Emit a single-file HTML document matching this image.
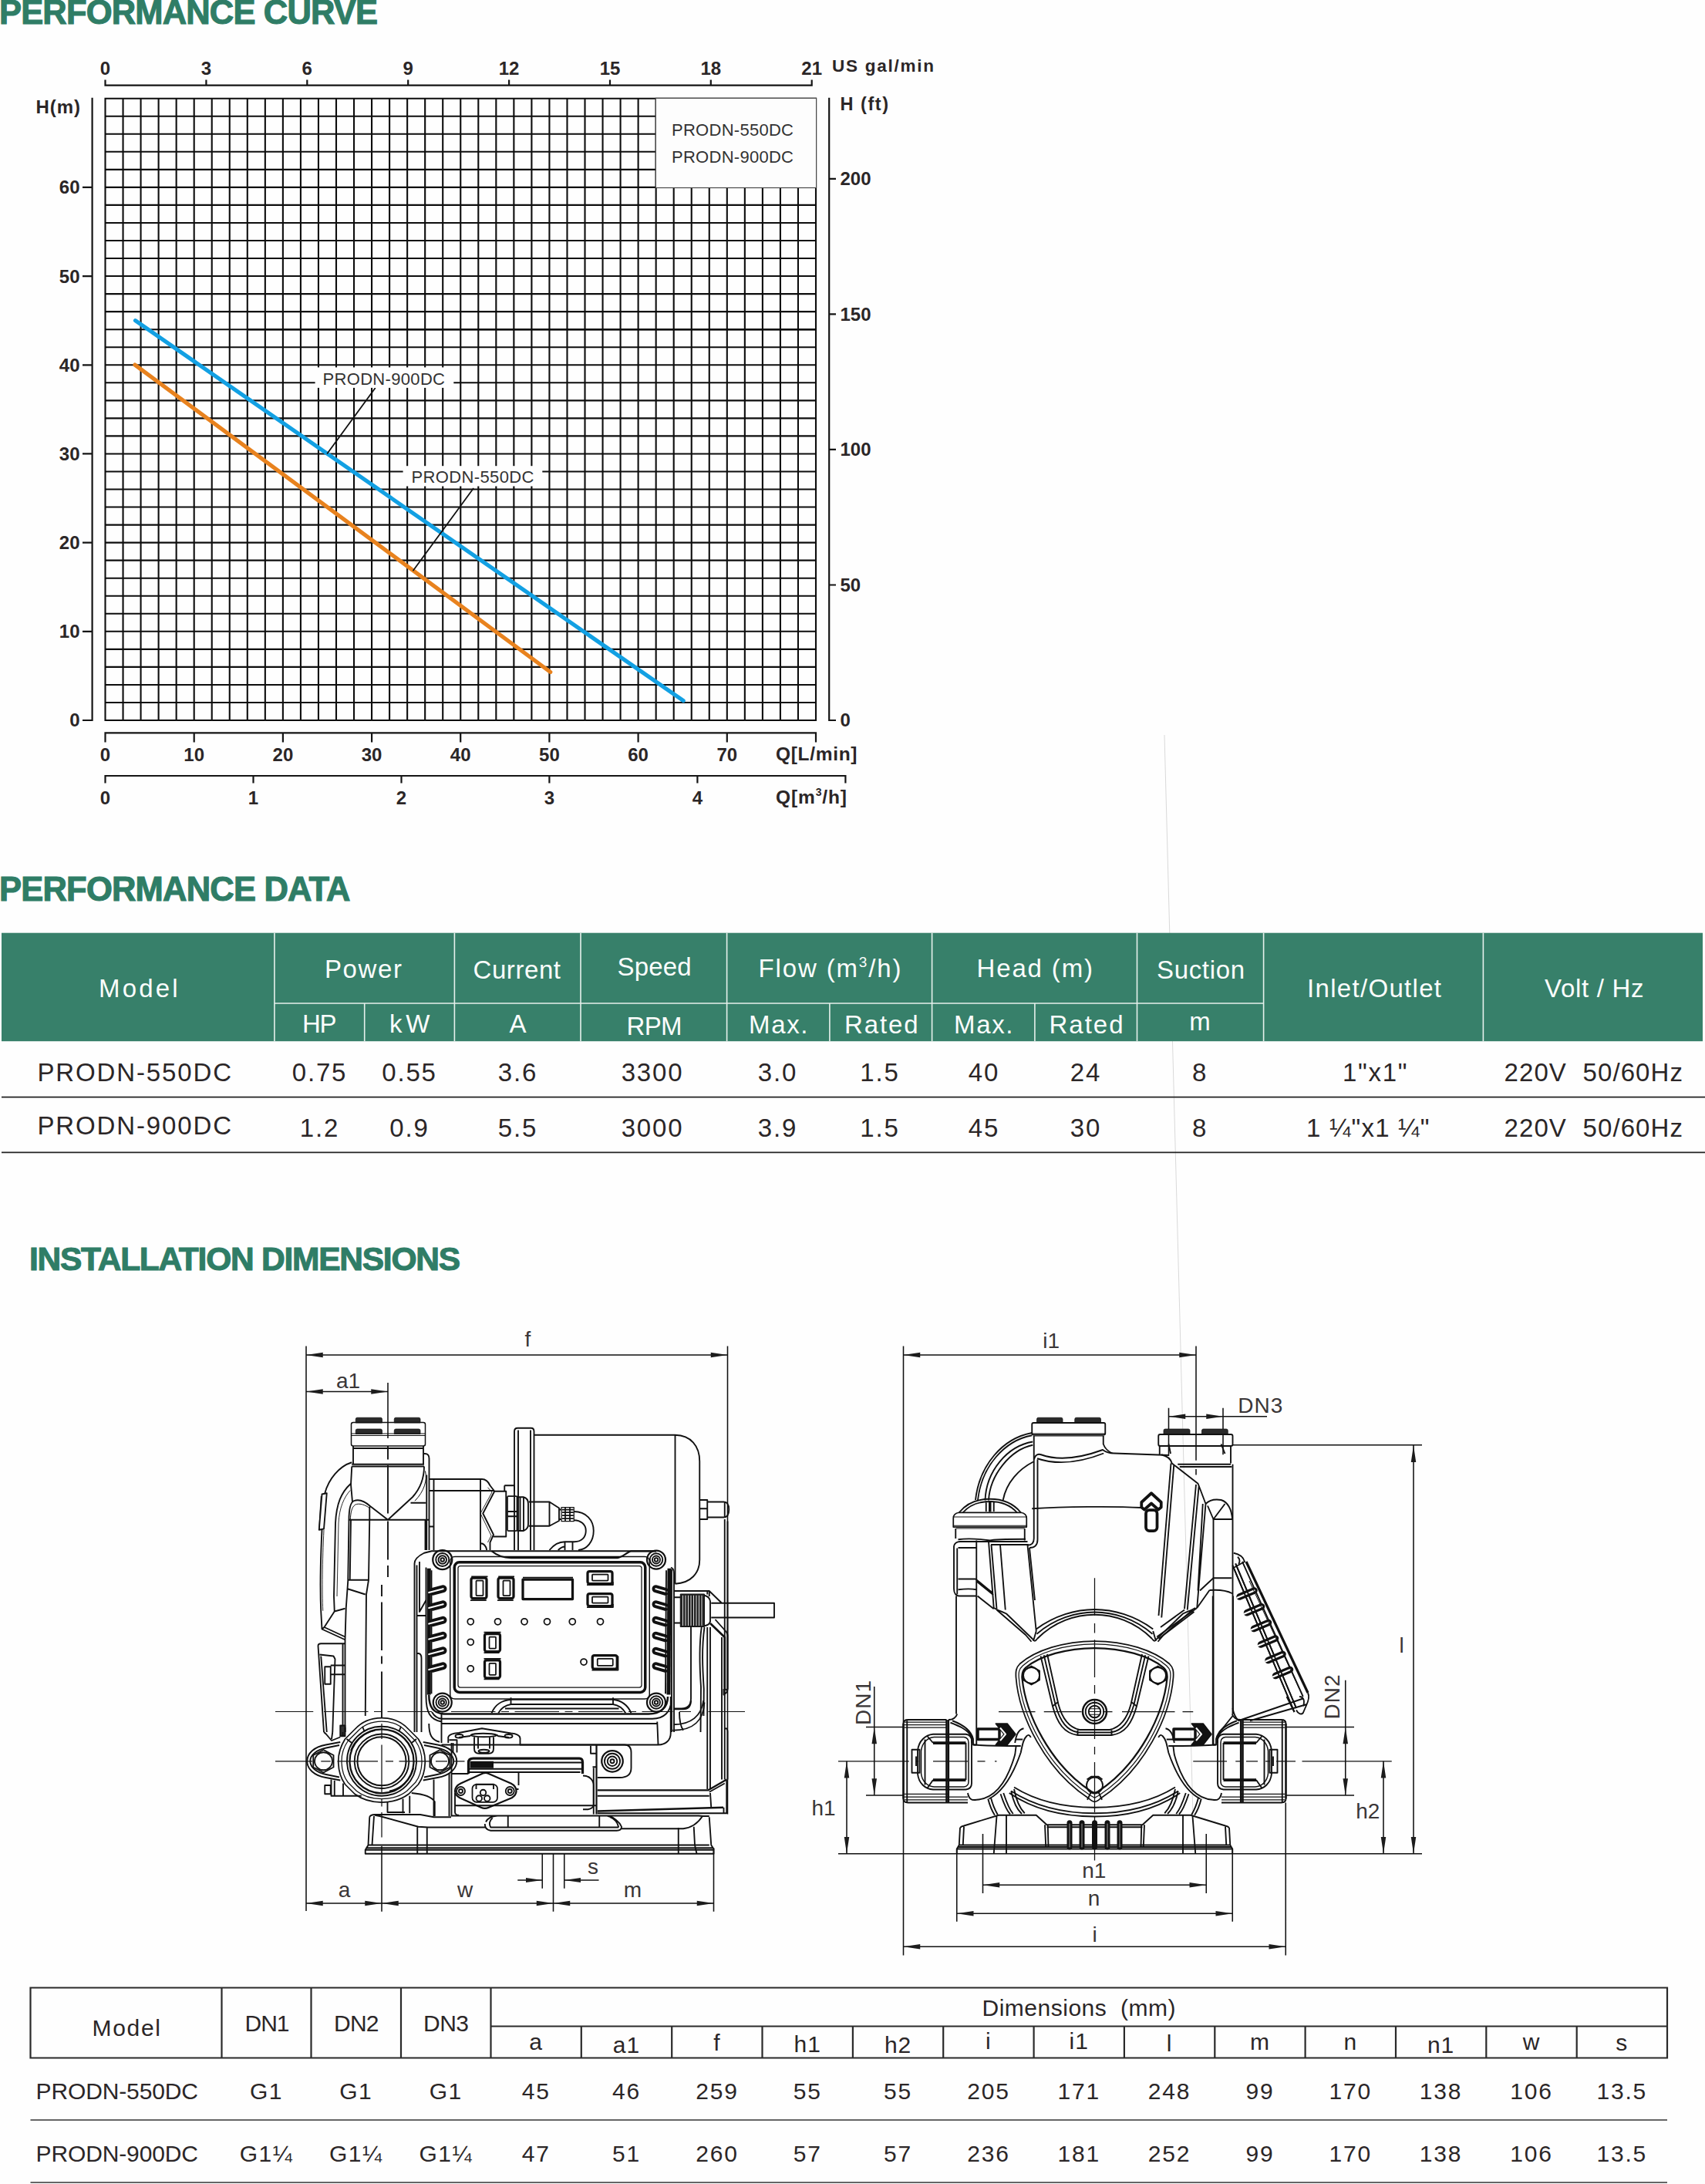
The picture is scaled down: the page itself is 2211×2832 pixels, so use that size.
<!DOCTYPE html>
<html><head><meta charset="utf-8"><title>PRODN DC</title>
<style>
html,body{margin:0;padding:0;background:#fff;}
body{width:2211px;height:2832px;overflow:hidden;font-family:"Liberation Sans",sans-serif;}
svg{display:block;}
text{font-family:"Liberation Sans",sans-serif;}
</style></head><body>
<svg width="2211" height="2832" viewBox="0 0 2211 2832">
<rect width="2211" height="2832" fill="#fefefe"/>

<text x="-1.0" y="31.0" font-size="43.5" font-weight="bold" fill="#2f7d66" textLength="491.0" lengthAdjust="spacing"  stroke="#2f7d66" stroke-width="1.1">PERFORMANCE CURVE</text>
<text x="-1.0" y="1168.0" font-size="43.5" font-weight="bold" fill="#2f7d66" textLength="455.5" lengthAdjust="spacing"  stroke="#2f7d66" stroke-width="1.1">PERFORMANCE DATA</text>
<text x="38.0" y="1647.0" font-size="42.5" font-weight="bold" fill="#2f7d66" textLength="559.0" lengthAdjust="spacing"  stroke="#2f7d66" stroke-width="1.1">INSTALLATION DIMENSIONS</text>
<path d="M136.50,126.70V935.00M159.54,126.70V935.00M182.57,126.70V935.00M205.61,126.70V935.00M228.65,126.70V935.00M251.69,126.70V935.00M274.73,126.70V935.00M297.76,126.70V935.00M320.80,126.70V935.00M343.84,126.70V935.00M366.88,126.70V935.00M389.91,126.70V935.00M412.95,126.70V935.00M435.99,126.70V935.00M459.03,126.70V935.00M482.06,126.70V935.00M505.10,126.70V935.00M528.14,126.70V935.00M551.17,126.70V935.00M574.21,126.70V935.00M597.25,126.70V935.00M620.29,126.70V935.00M643.33,126.70V935.00M666.36,126.70V935.00M689.40,126.70V935.00M712.44,126.70V935.00M735.48,126.70V935.00M758.51,126.70V935.00M781.55,126.70V935.00M804.59,126.70V935.00M827.62,126.70V935.00M850.66,126.70V935.00M873.70,126.70V935.00M896.74,126.70V935.00M919.78,126.70V935.00M942.81,126.70V935.00M965.85,126.70V935.00M988.89,126.70V935.00M1011.93,126.70V935.00M1034.96,126.70V935.00M1058.00,126.70V935.00M135.50,127.70H1059.00M135.50,150.74H1059.00M135.50,173.77H1059.00M135.50,196.81H1059.00M135.50,219.85H1059.00M135.50,242.89H1059.00M135.50,265.92H1059.00M135.50,288.96H1059.00M135.50,312.00H1059.00M135.50,335.03H1059.00M135.50,358.07H1059.00M135.50,381.11H1059.00M135.50,404.15H1059.00M135.50,427.18H1059.00M135.50,450.22H1059.00M135.50,473.26H1059.00M135.50,496.29H1059.00M135.50,519.33H1059.00M135.50,542.37H1059.00M135.50,565.41H1059.00M135.50,588.44H1059.00M135.50,611.48H1059.00M135.50,634.52H1059.00M135.50,657.55H1059.00M135.50,680.59H1059.00M135.50,703.63H1059.00M135.50,726.67H1059.00M135.50,749.70H1059.00M135.50,772.74H1059.00M135.50,795.78H1059.00M135.50,818.81H1059.00M135.50,841.85H1059.00M135.50,864.89H1059.00M135.50,887.93H1059.00M135.50,910.96H1059.00M135.50,934.00H1059.00" stroke="#0d0d0d" stroke-width="2.1" fill="none"/>
<path d="M322,427.3H1058.0" stroke="#0d0d0d" stroke-width="2.6" fill="none"/>
<path d="M136.5,110.6H1052.7M136.5,103.5V111.7M267.4,103.5V111.7M398.3,103.5V111.7M529.2,103.5V111.7M660.1,103.5V111.7M791.0,103.5V111.7M921.8,103.5V111.7M1052.7,103.5V111.7" stroke="#141414" stroke-width="2.2" fill="none"/>
<text x="136.5" y="97.0" font-size="24" font-weight="bold" fill="#2b2627" text-anchor="middle" letter-spacing="0" >0</text>
<text x="267.4" y="97.0" font-size="24" font-weight="bold" fill="#2b2627" text-anchor="middle" letter-spacing="0" >3</text>
<text x="398.3" y="97.0" font-size="24" font-weight="bold" fill="#2b2627" text-anchor="middle" letter-spacing="0" >6</text>
<text x="529.2" y="97.0" font-size="24" font-weight="bold" fill="#2b2627" text-anchor="middle" letter-spacing="0" >9</text>
<text x="660.1" y="97.0" font-size="24" font-weight="bold" fill="#2b2627" text-anchor="middle" letter-spacing="0" >12</text>
<text x="791.0" y="97.0" font-size="24" font-weight="bold" fill="#2b2627" text-anchor="middle" letter-spacing="0" >15</text>
<text x="921.8" y="97.0" font-size="24" font-weight="bold" fill="#2b2627" text-anchor="middle" letter-spacing="0" >18</text>
<text x="1052.7" y="97.0" font-size="24" font-weight="bold" fill="#2b2627" text-anchor="middle" letter-spacing="0" >21</text>
<text x="1079.0" y="92.8" font-size="22.5" font-weight="bold" fill="#2b2627" textLength="132.0" lengthAdjust="spacing" >US  gal/min</text>
<path d="M119.6,126.7V935.0M107,934.0H119.6M107,818.8H119.6M107,703.6H119.6M107,588.4H119.6M107,473.3H119.6M107,358.1H119.6M107,242.9H119.6" stroke="#141414" stroke-width="2.2" fill="none"/>
<text x="103.5" y="942.4" font-size="24" font-weight="bold" fill="#2b2627" text-anchor="end">0</text>
<text x="103.5" y="827.2" font-size="24" font-weight="bold" fill="#2b2627" text-anchor="end">10</text>
<text x="103.5" y="712.0" font-size="24" font-weight="bold" fill="#2b2627" text-anchor="end">20</text>
<text x="103.5" y="596.8" font-size="24" font-weight="bold" fill="#2b2627" text-anchor="end">30</text>
<text x="103.5" y="481.7" font-size="24" font-weight="bold" fill="#2b2627" text-anchor="end">40</text>
<text x="103.5" y="366.5" font-size="24" font-weight="bold" fill="#2b2627" text-anchor="end">50</text>
<text x="103.5" y="251.3" font-size="24" font-weight="bold" fill="#2b2627" text-anchor="end">60</text>
<text x="46.5" y="146.7" font-size="24" font-weight="bold" fill="#2b2627" textLength="57.5" lengthAdjust="spacing" >H(m)</text>
<path d="M1075.2,126.7V935.0M1075.2,934.0H1084M1075.2,758.5H1084M1075.2,582.9H1084M1075.2,407.4H1084M1075.2,231.8H1084" stroke="#141414" stroke-width="2.2" fill="none"/>
<text x="1089.5" y="942.4" font-size="24" font-weight="bold" fill="#2b2627">0</text>
<text x="1089.5" y="766.9" font-size="24" font-weight="bold" fill="#2b2627">50</text>
<text x="1089.5" y="591.3" font-size="24" font-weight="bold" fill="#2b2627">100</text>
<text x="1089.5" y="415.8" font-size="24" font-weight="bold" fill="#2b2627">150</text>
<text x="1089.5" y="240.2" font-size="24" font-weight="bold" fill="#2b2627">200</text>
<text x="1089.5" y="143.3" font-size="23.5" font-weight="bold" fill="#2b2627" textLength="62.5" lengthAdjust="spacing" >H (ft)</text>
<path d="M136.5,950.4H1058.0M136.5,949.3V962.6M251.7,949.3V962.6M366.9,949.3V962.6M482.1,949.3V962.6M597.2,949.3V962.6M712.4,949.3V962.6M827.6,949.3V962.6M942.8,949.3V962.6M1058.0,949.3V962.6" stroke="#141414" stroke-width="2.2" fill="none"/>
<text x="136.5" y="986.7" font-size="24" font-weight="bold" fill="#2b2627" text-anchor="middle" letter-spacing="0" >0</text>
<text x="251.7" y="986.7" font-size="24" font-weight="bold" fill="#2b2627" text-anchor="middle" letter-spacing="0" >10</text>
<text x="366.9" y="986.7" font-size="24" font-weight="bold" fill="#2b2627" text-anchor="middle" letter-spacing="0" >20</text>
<text x="482.1" y="986.7" font-size="24" font-weight="bold" fill="#2b2627" text-anchor="middle" letter-spacing="0" >30</text>
<text x="597.2" y="986.7" font-size="24" font-weight="bold" fill="#2b2627" text-anchor="middle" letter-spacing="0" >40</text>
<text x="712.4" y="986.7" font-size="24" font-weight="bold" fill="#2b2627" text-anchor="middle" letter-spacing="0" >50</text>
<text x="827.6" y="986.7" font-size="24" font-weight="bold" fill="#2b2627" text-anchor="middle" letter-spacing="0" >60</text>
<text x="942.8" y="986.7" font-size="24" font-weight="bold" fill="#2b2627" text-anchor="middle" letter-spacing="0" >70</text>
<text x="1006.0" y="985.6" font-size="24.5" font-weight="bold" fill="#2b2627" textLength="105.5" lengthAdjust="spacing" >Q[L/min]</text>
<path d="M136.5,1006H1096.4M136.5,1004.9V1015.6M328.5,1004.9V1015.6M520.5,1004.9V1015.6M712.4,1004.9V1015.6M904.4,1004.9V1015.6M1096.4,1004.9V1015.6" stroke="#141414" stroke-width="2.2" fill="none"/>
<text x="136.5" y="1042.6" font-size="24" font-weight="bold" fill="#2b2627" text-anchor="middle" letter-spacing="0" >0</text>
<text x="328.5" y="1042.6" font-size="24" font-weight="bold" fill="#2b2627" text-anchor="middle" letter-spacing="0" >1</text>
<text x="520.5" y="1042.6" font-size="24" font-weight="bold" fill="#2b2627" text-anchor="middle" letter-spacing="0" >2</text>
<text x="712.4" y="1042.6" font-size="24" font-weight="bold" fill="#2b2627" text-anchor="middle" letter-spacing="0" >3</text>
<text x="904.4" y="1042.6" font-size="24" font-weight="bold" fill="#2b2627" text-anchor="middle" letter-spacing="0" >4</text>
<text x="1006" y="1042" font-size="24.5" font-weight="bold" fill="#2b2627" textLength="92" lengthAdjust="spacing">Q[m<tspan font-size="14" dy="-10">3</tspan><tspan dy="10">/h]</tspan></text>
<rect x="850.3" y="127.3" width="208.3" height="116.2" fill="#fdfdfd" stroke="#4a4a4a" stroke-width="1.2"/>
<text x="871.0" y="175.7" font-size="22" font-weight="normal" fill="#333" textLength="158.0" lengthAdjust="spacing" >PRODN-550DC</text>
<text x="871.0" y="210.6" font-size="22" font-weight="normal" fill="#333" textLength="158.0" lengthAdjust="spacing" >PRODN-900DC</text>
<path d="M175.5,415.7L886.2,908.6" stroke="#12a0e3" stroke-width="5.2" stroke-linecap="round" fill="none"/>
<path d="M175,473.1L713.8,871.5" stroke="#e8821e" stroke-width="5.2" stroke-linecap="round" fill="none"/>
<path d="M486.7,503L424.1,588.5M614.1,633L535.5,740.3" stroke="#111" stroke-width="1.8" fill="none"/>
<rect x="408.6" y="476.4" width="179.7" height="26.5" fill="#fefefe"/>
<rect x="522.6" y="604.2" width="180.7" height="26.3" fill="#fefefe"/>
<text x="418.5" y="498.7" font-size="22" font-weight="normal" fill="#333" textLength="158.5" lengthAdjust="spacing" >PRODN-900DC</text>
<text x="533.5" y="626.0" font-size="22" font-weight="normal" fill="#333" textLength="159.0" lengthAdjust="spacing" >PRODN-550DC</text>
<path d="M1510,953L1547,2355" stroke="#d9d9d9" stroke-width="1" fill="none"/>
<rect x="2" y="1209.7" width="2206" height="140.5" fill="#37806a"/>
<path d="M355.9,1209.7V1350.2M589.4,1209.7V1350.2M753,1209.7V1350.2M942.6,1209.7V1350.2M1208.6,1209.7V1350.2M1474.5,1209.7V1350.2M1638.6,1209.7V1350.2M1923.4,1209.7V1350.2M472.7,1301V1350.2M1075.9,1301V1350.2M1341.9,1301V1350.2M355.9,1301H1638.6" stroke="#e6f0ec" stroke-width="1.6" fill="none"/>
<text x="128.0" y="1293.0" font-size="33" font-weight="normal" fill="#fbfdfc" textLength="102.5" lengthAdjust="spacing" >Model</text>
<text x="421.0" y="1268.0" font-size="33" font-weight="normal" fill="#fbfdfc" textLength="100.0" lengthAdjust="spacing" >Power</text>
<text x="392.0" y="1338.7" font-size="33" font-weight="normal" fill="#fbfdfc" textLength="44.5" lengthAdjust="spacing" >HP</text>
<text x="505.0" y="1338.7" font-size="33" font-weight="normal" fill="#fbfdfc" textLength="52.5" lengthAdjust="spacing" >kW</text>
<text x="613.5" y="1268.5" font-size="33" font-weight="normal" fill="#fbfdfc" textLength="113.5" lengthAdjust="spacing" >Current</text>
<text x="671.5" y="1338.7" font-size="33" font-weight="normal" fill="#fbfdfc" text-anchor="middle" letter-spacing="0" >A</text>
<text x="800.5" y="1264.5" font-size="33" font-weight="normal" fill="#fbfdfc" textLength="96.0" lengthAdjust="spacing" >Speed</text>
<text x="812.5" y="1342.0" font-size="33" font-weight="normal" fill="#fbfdfc" textLength="72.0" lengthAdjust="spacing" >RPM</text>
<text x="983.5" y="1266.8" font-size="33" fill="#fbfdfc" textLength="185" lengthAdjust="spacing">Flow (m<tspan font-size="19" dy="-13">3</tspan><tspan dy="13">/h)</tspan></text>
<text x="1266.5" y="1266.8" font-size="33" font-weight="normal" fill="#fbfdfc" textLength="150.5" lengthAdjust="spacing" >Head (m)</text>
<text x="971.0" y="1339.5" font-size="33" font-weight="normal" fill="#fbfdfc" textLength="76.5" lengthAdjust="spacing" >Max.</text>
<text x="1095.0" y="1339.5" font-size="33" font-weight="normal" fill="#fbfdfc" textLength="95.5" lengthAdjust="spacing" >Rated</text>
<text x="1237.0" y="1339.5" font-size="33" font-weight="normal" fill="#fbfdfc" textLength="76.5" lengthAdjust="spacing" >Max.</text>
<text x="1360.5" y="1339.5" font-size="33" font-weight="normal" fill="#fbfdfc" textLength="96.0" lengthAdjust="spacing" >Rated</text>
<text x="1500.0" y="1269.0" font-size="33" font-weight="normal" fill="#fbfdfc" textLength="114.0" lengthAdjust="spacing" >Suction</text>
<text x="1556.0" y="1335.8" font-size="33" font-weight="normal" fill="#fbfdfc" text-anchor="middle" letter-spacing="0" >m</text>
<text x="1695.0" y="1292.6" font-size="33" font-weight="normal" fill="#fbfdfc" textLength="174.0" lengthAdjust="spacing" >Inlet/Outlet</text>
<text x="2003.0" y="1292.6" font-size="33" font-weight="normal" fill="#fbfdfc" textLength="128.5" lengthAdjust="spacing" >Volt / Hz</text>
<text x="48.5" y="1401.6" font-size="33" font-weight="normal" fill="#2b2627" textLength="251.5" lengthAdjust="spacing" >PRODN-550DC</text>
<text x="414.5" y="1401.6" font-size="33" font-weight="normal" fill="#2b2627" text-anchor="middle" letter-spacing="1.8" >0.75</text>
<text x="531.0" y="1401.6" font-size="33" font-weight="normal" fill="#2b2627" text-anchor="middle" letter-spacing="1.8" >0.55</text>
<text x="671.5" y="1401.6" font-size="33" font-weight="normal" fill="#2b2627" text-anchor="middle" letter-spacing="1.8" >3.6</text>
<text x="846.0" y="1401.6" font-size="33" font-weight="normal" fill="#2b2627" text-anchor="middle" letter-spacing="1.8" >3300</text>
<text x="1008.5" y="1401.6" font-size="33" font-weight="normal" fill="#2b2627" text-anchor="middle" letter-spacing="1.8" >3.0</text>
<text x="1141.0" y="1401.6" font-size="33" font-weight="normal" fill="#2b2627" text-anchor="middle" letter-spacing="1.8" >1.5</text>
<text x="1276.0" y="1401.6" font-size="33" font-weight="normal" fill="#2b2627" text-anchor="middle" letter-spacing="1.8" >40</text>
<text x="1408.0" y="1401.6" font-size="33" font-weight="normal" fill="#2b2627" text-anchor="middle" letter-spacing="1.8" >24</text>
<text x="1556.0" y="1401.6" font-size="33" font-weight="normal" fill="#2b2627" text-anchor="middle" letter-spacing="1.8" >8</text>
<text x="1741.0" y="1401.6" font-size="33" font-weight="normal" fill="#2b2627" textLength="83.5" lengthAdjust="spacing" >1"x1"</text>
<text x="1950.5" y="1401.6" font-size="33" font-weight="normal" fill="#2b2627" textLength="231.5" lengthAdjust="spacing" xml:space="preserve">220V  50/60Hz</text>
<text x="48.5" y="1471.0" font-size="33" font-weight="normal" fill="#2b2627" textLength="251.5" lengthAdjust="spacing" >PRODN-900DC</text>
<text x="414.5" y="1474.2" font-size="33" font-weight="normal" fill="#2b2627" text-anchor="middle" letter-spacing="1.8" >1.2</text>
<text x="531.0" y="1474.2" font-size="33" font-weight="normal" fill="#2b2627" text-anchor="middle" letter-spacing="1.8" >0.9</text>
<text x="671.5" y="1474.2" font-size="33" font-weight="normal" fill="#2b2627" text-anchor="middle" letter-spacing="1.8" >5.5</text>
<text x="846.0" y="1474.2" font-size="33" font-weight="normal" fill="#2b2627" text-anchor="middle" letter-spacing="1.8" >3000</text>
<text x="1008.5" y="1474.2" font-size="33" font-weight="normal" fill="#2b2627" text-anchor="middle" letter-spacing="1.8" >3.9</text>
<text x="1141.0" y="1474.2" font-size="33" font-weight="normal" fill="#2b2627" text-anchor="middle" letter-spacing="1.8" >1.5</text>
<text x="1276.0" y="1474.2" font-size="33" font-weight="normal" fill="#2b2627" text-anchor="middle" letter-spacing="1.8" >45</text>
<text x="1408.0" y="1474.2" font-size="33" font-weight="normal" fill="#2b2627" text-anchor="middle" letter-spacing="1.8" >30</text>
<text x="1556.0" y="1474.2" font-size="33" font-weight="normal" fill="#2b2627" text-anchor="middle" letter-spacing="1.8" >8</text>
<text x="1694.0" y="1474.2" font-size="33" font-weight="normal" fill="#2b2627" textLength="159.5" lengthAdjust="spacing" >1 ¼"x1 ¼"</text>
<text x="1950.5" y="1474.2" font-size="33" font-weight="normal" fill="#2b2627" textLength="231.5" lengthAdjust="spacing" xml:space="preserve">220V  50/60Hz</text>
<path d="M2,1422.6H2211M2,1494.4H2211" stroke="#222" stroke-width="1.8" fill="none"/>
<path d="M39.5,2577.5H2162V2668.5H39.5ZM287.5,2577.5V2668.5M403.5,2577.5V2668.5M520,2577.5V2668.5M636.5,2577.5V2668.5M753.8,2627.5V2668.5M871.2,2627.5V2668.5M988.5,2627.5V2668.5M1105.9,2627.5V2668.5M1223.2,2627.5V2668.5M1340.6,2627.5V2668.5M1457.9,2627.5V2668.5M1575.3,2627.5V2668.5M1692.6,2627.5V2668.5M1810.0,2627.5V2668.5M1927.3,2627.5V2668.5M2044.7,2627.5V2668.5M636.5,2627.5H2162" stroke="#2a2a2a" stroke-width="2.2" fill="none"/>
<path d="M39.5,2749H2162M39.5,2830H2162" stroke="#333" stroke-width="1.3" fill="none"/>
<text x="119.5" y="2640.0" font-size="30" font-weight="normal" fill="#2b2627" textLength="88.5" lengthAdjust="spacing" >Model</text>
<text x="317.5" y="2634.0" font-size="30" font-weight="normal" fill="#2b2627" textLength="58.0" lengthAdjust="spacing" >DN1</text>
<text x="433.0" y="2634.0" font-size="30" font-weight="normal" fill="#2b2627" textLength="58.5" lengthAdjust="spacing" >DN2</text>
<text x="549.0" y="2634.0" font-size="30" font-weight="normal" fill="#2b2627" textLength="59.0" lengthAdjust="spacing" >DN3</text>
<text x="1273.5" y="2613.5" font-size="30" font-weight="normal" fill="#2b2627" textLength="251.0" lengthAdjust="spacing" xml:space="preserve">Dimensions  (mm)</text>
<text x="695.2" y="2657.5" font-size="30" font-weight="normal" fill="#2b2627" text-anchor="middle" letter-spacing="1" >a</text>
<text x="812.5" y="2662.0" font-size="30" font-weight="normal" fill="#2b2627" text-anchor="middle" letter-spacing="1" >a1</text>
<text x="929.9" y="2659.0" font-size="30" font-weight="normal" fill="#2b2627" text-anchor="middle" letter-spacing="1" >f</text>
<text x="1047.2" y="2660.5" font-size="30" font-weight="normal" fill="#2b2627" text-anchor="middle" letter-spacing="1" >h1</text>
<text x="1164.6" y="2662.0" font-size="30" font-weight="normal" fill="#2b2627" text-anchor="middle" letter-spacing="1" >h2</text>
<text x="1281.9" y="2657.0" font-size="30" font-weight="normal" fill="#2b2627" text-anchor="middle" letter-spacing="1" >i</text>
<text x="1399.2" y="2657.0" font-size="30" font-weight="normal" fill="#2b2627" text-anchor="middle" letter-spacing="1" >i1</text>
<text x="1516.6" y="2660.0" font-size="30" font-weight="normal" fill="#2b2627" text-anchor="middle" letter-spacing="1" >l</text>
<text x="1633.9" y="2657.5" font-size="30" font-weight="normal" fill="#2b2627" text-anchor="middle" letter-spacing="1" >m</text>
<text x="1751.3" y="2657.5" font-size="30" font-weight="normal" fill="#2b2627" text-anchor="middle" letter-spacing="1" >n</text>
<text x="1868.6" y="2662.0" font-size="30" font-weight="normal" fill="#2b2627" text-anchor="middle" letter-spacing="1" >n1</text>
<text x="1986.0" y="2657.5" font-size="30" font-weight="normal" fill="#2b2627" text-anchor="middle" letter-spacing="1" >w</text>
<text x="2103.3" y="2658.5" font-size="30" font-weight="normal" fill="#2b2627" text-anchor="middle" letter-spacing="1" >s</text>
<text x="46.5" y="2721.5" font-size="30" font-weight="normal" fill="#2b2627" textLength="210.5" lengthAdjust="spacing" >PRODN-550DC</text>
<text x="345.5" y="2721.5" font-size="30" font-weight="normal" fill="#2b2627" text-anchor="middle" letter-spacing="1.5" >G1</text>
<text x="461.7" y="2721.5" font-size="30" font-weight="normal" fill="#2b2627" text-anchor="middle" letter-spacing="1.5" >G1</text>
<text x="578.2" y="2721.5" font-size="30" font-weight="normal" fill="#2b2627" text-anchor="middle" letter-spacing="1.5" >G1</text>
<text x="695.2" y="2721.5" font-size="30" font-weight="normal" fill="#2b2627" text-anchor="middle" letter-spacing="1.8" >45</text>
<text x="812.5" y="2721.5" font-size="30" font-weight="normal" fill="#2b2627" text-anchor="middle" letter-spacing="1.8" >46</text>
<text x="929.9" y="2721.5" font-size="30" font-weight="normal" fill="#2b2627" text-anchor="middle" letter-spacing="1.8" >259</text>
<text x="1047.2" y="2721.5" font-size="30" font-weight="normal" fill="#2b2627" text-anchor="middle" letter-spacing="1.8" >55</text>
<text x="1164.6" y="2721.5" font-size="30" font-weight="normal" fill="#2b2627" text-anchor="middle" letter-spacing="1.8" >55</text>
<text x="1281.9" y="2721.5" font-size="30" font-weight="normal" fill="#2b2627" text-anchor="middle" letter-spacing="1.8" >205</text>
<text x="1399.2" y="2721.5" font-size="30" font-weight="normal" fill="#2b2627" text-anchor="middle" letter-spacing="1.8" >171</text>
<text x="1516.6" y="2721.5" font-size="30" font-weight="normal" fill="#2b2627" text-anchor="middle" letter-spacing="1.8" >248</text>
<text x="1633.9" y="2721.5" font-size="30" font-weight="normal" fill="#2b2627" text-anchor="middle" letter-spacing="1.8" >99</text>
<text x="1751.3" y="2721.5" font-size="30" font-weight="normal" fill="#2b2627" text-anchor="middle" letter-spacing="1.8" >170</text>
<text x="1868.6" y="2721.5" font-size="30" font-weight="normal" fill="#2b2627" text-anchor="middle" letter-spacing="1.8" >138</text>
<text x="1986.0" y="2721.5" font-size="30" font-weight="normal" fill="#2b2627" text-anchor="middle" letter-spacing="1.8" >106</text>
<text x="2103.3" y="2721.5" font-size="30" font-weight="normal" fill="#2b2627" text-anchor="middle" letter-spacing="1.8" >13.5</text>
<text x="46.5" y="2802.5" font-size="30" font-weight="normal" fill="#2b2627" textLength="210.5" lengthAdjust="spacing" >PRODN-900DC</text>
<text x="345.5" y="2802.5" font-size="30" font-weight="normal" fill="#2b2627" text-anchor="middle" letter-spacing="1.5" >G1¼</text>
<text x="461.7" y="2802.5" font-size="30" font-weight="normal" fill="#2b2627" text-anchor="middle" letter-spacing="1.5" >G1¼</text>
<text x="578.2" y="2802.5" font-size="30" font-weight="normal" fill="#2b2627" text-anchor="middle" letter-spacing="1.5" >G1¼</text>
<text x="695.2" y="2802.5" font-size="30" font-weight="normal" fill="#2b2627" text-anchor="middle" letter-spacing="1.8" >47</text>
<text x="812.5" y="2802.5" font-size="30" font-weight="normal" fill="#2b2627" text-anchor="middle" letter-spacing="1.8" >51</text>
<text x="929.9" y="2802.5" font-size="30" font-weight="normal" fill="#2b2627" text-anchor="middle" letter-spacing="1.8" >260</text>
<text x="1047.2" y="2802.5" font-size="30" font-weight="normal" fill="#2b2627" text-anchor="middle" letter-spacing="1.8" >57</text>
<text x="1164.6" y="2802.5" font-size="30" font-weight="normal" fill="#2b2627" text-anchor="middle" letter-spacing="1.8" >57</text>
<text x="1281.9" y="2802.5" font-size="30" font-weight="normal" fill="#2b2627" text-anchor="middle" letter-spacing="1.8" >236</text>
<text x="1399.2" y="2802.5" font-size="30" font-weight="normal" fill="#2b2627" text-anchor="middle" letter-spacing="1.8" >181</text>
<text x="1516.6" y="2802.5" font-size="30" font-weight="normal" fill="#2b2627" text-anchor="middle" letter-spacing="1.8" >252</text>
<text x="1633.9" y="2802.5" font-size="30" font-weight="normal" fill="#2b2627" text-anchor="middle" letter-spacing="1.8" >99</text>
<text x="1751.3" y="2802.5" font-size="30" font-weight="normal" fill="#2b2627" text-anchor="middle" letter-spacing="1.8" >170</text>
<text x="1868.6" y="2802.5" font-size="30" font-weight="normal" fill="#2b2627" text-anchor="middle" letter-spacing="1.8" >138</text>
<text x="1986.0" y="2802.5" font-size="30" font-weight="normal" fill="#2b2627" text-anchor="middle" letter-spacing="1.8" >106</text>
<text x="2103.3" y="2802.5" font-size="30" font-weight="normal" fill="#2b2627" text-anchor="middle" letter-spacing="1.8" >13.5</text>
<!-- LEFT PUMP: coords = 4x zoom, origin (330,1700) -->
<g transform="translate(330,1700) scale(0.25)" fill="none" stroke="#111" stroke-width="7.5" stroke-linejoin="round" stroke-linecap="butt">
<!-- L1: dimension lines -->
<path d="M268,182V3112M268,228H2454M268,418H692M692,372V660" stroke-width="6.2"/>
<path d="M268,228L355,215V241ZM268,418L355,405V431ZM692,418L605,405V431Z" fill="#1c1c1c" stroke="none"/>
<path d="M692,700V770M692,800V1050M692,1090V1290M692,1320V1380M660,1420V1480M660,1510V1760M660,1790V1830M660,1870V2110"/>
<!-- pipe cap -->
<path d="M525,580V561Q525,553 533,553H654Q662,553 662,561V580ZM725,580V561Q725,553 733,553H852Q860,553 860,561V580ZM525,638V620Q525,612 533,612H654Q662,612 662,620V638ZM725,638V620Q725,612 733,612H852Q860,612 860,620V638Z" fill="#2a2a2a" stroke-width="3"/>
<rect x="502" y="578" width="384" height="122" rx="10" stroke-width="6"/>
<path d="M502,636H886M502,646H886" stroke-width="4"/>
<path d="M512,700V795M876,700V795M512,712H876M505,795H880M505,806H880"/>
<!-- body -->
<path d="M505,806L500,900L508,990M880,806C880,860 865,915 820,965L692,1083L600,1012C570,985 540,975 515,985C495,995 490,1040 490,1083H905M810,995H890M597,1015V1083"/>
<path d="M886,830C897,880 880,935 832,985M600,1025C575,1003 540,995 522,1005C503,1018 499,1050 497,1083" stroke-width="4"/>
<!-- left arc / handle -->
<path d="M505,785C440,805 385,870 365,945M350,950L375,945L360,1130L335,1135ZM350,1135C342,1300 340,1450 345,1560L350,1650L470,1705M500,895C450,940 425,1000 420,1100L412,1480L415,1558L470,1543M415,1558L362,1640L350,1650M362,1640L470,1690"/>
<path d="M360,1135C352,1300 350,1450 355,1555M497,930C465,965 440,1020 436,1100L428,1480M345,960L335,1128" stroke-width="3.5"/>
<!-- column -->
<path d="M490,1083L485,1400L475,1540L470,1705V2184M597,1083L592,1395L580,1470L575,2100M485,1395H590M480,1440L575,1470M500,1083L495,1395" />
<!-- lower-left bracket -->
<path d="M330,1737C330,1728 335,1725 345,1725H470M330,1737L360,2184M338,1782L410,1790L418,1805L405,2184M345,1790L375,2184M365,1845H395V1935H365ZM395,1838H470M395,1885H470M458,1725V2184"/>
<!-- flange right of pipe -->
<path d="M880,740C900,738 906,750 906,765V1240M893,850V1240M886,1083V1240"/>
<!-- pressure switch box -->
<path d="M906,872H1180C1200,872 1215,890 1222,905L1245,935L1185,1050L1240,1160L1222,1200V1240M906,932H1240M930,872V1240M1172,872V1240M906,1118H930M1172,1205C1190,1205 1200,1215 1205,1240"/>
<path d="M1210,915L1232,940L1172,1050L1228,1165L1210,1200" stroke-width="3.5"/>
<path d="M1297,905H1348V935M1297,905V935M1240,935H1305V1170H1240"/>
<rect x="1312" y="960" width="50" height="180" rx="5" stroke-width="7"/>
<path d="M1312,1040H1362M1312,1065H1362M1362,965H1395C1415,970 1420,985 1420,1000V1105C1420,1125 1410,1135 1395,1140H1362M1378,967V1138M1396,968V1138"/>
<path d="M1422,990H1530L1580,1022V1088L1530,1115H1422M1530,990V1115"/>
<!-- tank flange -->
<path d="M1348,1240V625C1348,612 1355,607 1365,607H1435C1445,607 1450,615 1450,625V1240M1368,618V1240M1432,618V1240"/>
<!-- control box left parts -->
<path d="M830,2184V1310C830,1290 850,1270 880,1255L920,1245H1704M842,1318V2184M856,1300V1560L890,1500M845,1580H890M845,1775C860,1775 866,1785 866,1800V2184"/>
<path d="M1230,1245C1260,1270 1290,1280 1330,1280H1884" stroke-width="9"/>
<circle cx="975" cy="1290" r="50" stroke-width="9"/><circle cx="975" cy="1290" r="34"/><circle cx="975" cy="1290" r="21"/><circle cx="975" cy="1290" r="9"/>
<circle cx="975" cy="2030" r="48" stroke-width="9"/><circle cx="975" cy="2030" r="33"/><circle cx="975" cy="2030" r="20"/><circle cx="975" cy="2030" r="9"/>
<path d="M905,1335V1990" stroke-width="20"/>
<path d="M918,1345V1985M890,1330V2000"/>
<rect x="1037" y="1303" width="990" height="675" rx="26" stroke-width="14"/>
<rect x="1056" y="1322" width="952" height="630" rx="12" stroke-width="5"/><path d="M1015,1990V1300C1015,1285 1025,1274 1040,1274H2024C2039,1274 2049,1285 2049,1300V1990C2049,2005 2039,2012 2024,2012H1040C1025,2012 1015,2005 1015,1990Z" stroke-width="6"/>
<!-- vent slots -->
<g stroke="#111" stroke-width="40" stroke-linecap="round">
<path d="M925,1455L978,1441M925,1535L978,1521M925,1617L978,1603M925,1697L978,1683M925,1775L978,1761M925,1855L978,1841"/>
<path d="M2082,1441L2130,1455M2082,1521L2130,1535M2082,1603L2130,1617M2082,1683L2130,1697M2082,1763L2130,1777M2082,1841L2130,1855"/>
</g>
<g stroke="#fefefe" stroke-width="9" stroke-linecap="round">
<path d="M905,1460L978,1441M905,1540L978,1521M905,1622L978,1603M905,1702L978,1683M905,1780L978,1761M905,1860L978,1841"/>
<path d="M2082,1441L2150,1460M2082,1521L2150,1540M2082,1603L2150,1622M2082,1683L2150,1702M2082,1763L2150,1782M2082,1841L2150,1860"/>
</g>
<!-- buttons -->
<g stroke-width="13">
<rect x="1124" y="1384" width="80" height="106" rx="10"/><rect x="1264" y="1384" width="80" height="106" rx="10"/>
<rect x="1194" y="1674" width="80" height="92" rx="10"/><rect x="1194" y="1811" width="80" height="92" rx="10"/>
<rect x="1728" y="1350" width="128" height="64" rx="10"/><rect x="1728" y="1466" width="128" height="64" rx="10"/>
<rect x="1753" y="1786" width="128" height="70" rx="10"/>
<rect x="1392" y="1392" width="258" height="102" />
</g>
<g stroke-width="7">
<rect x="1150" y="1398" width="36" height="78" rx="3"/><rect x="1290" y="1398" width="36" height="78" rx="3"/>
<rect x="1218" y="1690" width="34" height="60" rx="3"/><rect x="1218" y="1827" width="34" height="60" rx="3"/>
<rect x="1752" y="1366" width="82" height="32" rx="3"/><rect x="1752" y="1482" width="82" height="32" rx="3"/>
<rect x="1779" y="1803" width="80" height="36" rx="3"/>
<path d="M1125,1377H1210M1120,1500H1203M1265,1377H1348M1260,1500H1343M1190,1666H1278M1190,1772H1270M1190,1803H1278M1190,1909H1270M1392,1382H1652M1724,1420H1860V1405M1724,1536H1860V1520M1750,1862H1886V1790"/>
<circle cx="1121" cy="1611" r="16"/><circle cx="1262" cy="1611" r="16"/><circle cx="1400" cy="1611" r="16"/><circle cx="1518" cy="1611" r="16"/><circle cx="1649" cy="1611" r="16"/><circle cx="1794" cy="1611" r="16"/>
<circle cx="1121" cy="1717" r="16"/><circle cx="1121" cy="1855" r="16"/><circle cx="1708" cy="1820" r="16"/>
</g>
<!-- L2: f arrow right, ext line -->
<path d="M2454,182V2610" stroke-width="6.2"/>
<path d="M2454,228L2367,215V241Z" fill="#1c1c1c" stroke="none"/>
<!-- ribbed connector + cable -->
<rect x="1592" y="1018" width="65" height="72" fill="#fff" stroke-width="5"/>
<path d="M1596,1030H1655M1596,1044H1655M1596,1060H1655M1596,1076H1655M1612,1018V1090M1636,1018V1090" stroke-width="7"/>
<path d="M1580,1030H1592M1580,1080H1592M1657,1085C1690,1085 1719,1105 1719,1140C1719,1175 1695,1197 1660,1197H1610C1580,1197 1550,1215 1530,1240M1657,1040C1720,1040 1759,1085 1759,1140C1759,1195 1725,1237 1680,1240M1610,1200V1240M1650,1200V1240M1575,1240C1590,1225 1600,1222 1612,1222"/>
<!-- tank -->
<path d="M1450,643H2182C2264,645 2309,700 2309,780V1290C2309,1360 2264,1410 2182,1415M2182,643V1415"/>
<path d="M2309,980H2349V1080H2309M2309,1025H2349M2349,990H2434C2454,990 2461,1010 2461,1030C2461,1050 2454,1070 2434,1070H2349M2439,990V1070"/>
<!-- box right side -->
<circle cx="2084" cy="1290" r="48" stroke-width="9"/><circle cx="2084" cy="1290" r="33"/><circle cx="2084" cy="1290" r="20"/><circle cx="2084" cy="1290" r="9"/>
<circle cx="2084" cy="2030" r="48" stroke-width="9"/><circle cx="2084" cy="2030" r="33"/><circle cx="2084" cy="2030" r="20"/><circle cx="2084" cy="2030" r="9"/>
<path d="M2152,1335L2148,1990" stroke-width="20"/>
<path d="M2136,1345L2132,1985M2160,1330C2172,1335 2176,1345 2176,1360V2184M2164,1340V2184"/>
<path d="M1884,1280C1904,1280 1934,1250 1954,1245H2084" stroke-width="9"/>
<path d="M1704,1245H2084"/>
<!-- gland + cable rod + bracket -->
<rect x="2209" y="1468" width="125" height="170" fill="#222" stroke-width="4"/>
<path d="M2222,1475V1632M2236,1475V1632M2250,1475V1632M2264,1475V1632M2278,1475V1632M2292,1475V1632M2306,1475V1632M2320,1475V1632" stroke="#ddd" stroke-width="4"/>
<path d="M2334,1475C2352,1480 2362,1490 2364,1505V1610C2362,1622 2352,1630 2334,1633M2369,1515H2696V1590H2369M2176,1452H2359L2424,1515M2359,1452V1480M2176,1485H2209M2176,1618H2209M2349,1452V1470"/>
<path d="M2364,1620L2439,1692V1960" stroke-width="11"/>
<path d="M2390,1600L2448,1665L2454,1680V1960C2454,1975 2444,1985 2434,1990V1960M2349,1640V2184M2364,1640V2184M2424,1692V2184M2439,1960V2184M2319,1640C2304,1750 2309,1850 2316,1950L2314,2184M2334,1640C2319,1750 2324,1850 2331,1960L2330,2100M2264,1640V2010C2264,2045 2244,2062 2214,2062H2176"/>
<!-- bottom handle of control box -->
<path d="M1230,2085C1250,2040 1280,2020 1330,2015H1860C1904,2020 1934,2040 1954,2085M1265,2085C1280,2060 1300,2045 1330,2040H1860C1890,2045 1910,2060 1925,2085M1330,2005V2040M1860,2005V2040M1300,2062H1890"/>
<!-- center line upper -->
<path d="M108,2078H305M360,2078H590M620,2078H660M690,2078H920M950,2078H990M1020,2078H1250M1280,2078H1320M1350,2078H1580M1610,2078H1650M1680,2078H1910M1940,2078H1980M2010,2078H2170M2204,2078H2264M2354,2078H2544" stroke-width="4.5"/>
<g transform="translate(0,1600)">
<!-- bottom dims -->
<path d="M268,1472H2382M660,1175V1515M1550,1215V1515M2382,1185V1515M1493,1215V1395M1607,1215V1395M1365,1352H1493M1607,1352H1786" stroke-width="6.2"/>
<path d="M268,1472L355,1459V1485ZM660,1472L573,1459V1485ZM660,1472L747,1459V1485ZM1550,1472L1463,1459V1485ZM1550,1472L1637,1459V1485ZM2382,1472L2295,1459V1485ZM1493,1352L1408,1340V1364ZM1607,1352L1692,1340V1364Z" fill="#1c1c1c" stroke="none"/>
<path d="M660,540V620M660,650V900M660,930V970M660,1000V1130M108,735H300M345,735H395M430,735H640M680,735H720M750,735H910M940,735H1000M1030,735H1090" stroke-width="5"/>
<!-- inlet flange -->
<circle cx="660" cy="735" r="126" stroke-width="8"/><circle cx="660" cy="735" r="141"/><circle cx="660" cy="735" r="166" stroke-width="9"/><circle cx="660" cy="735" r="180"/>
<path d="M445,636L370,650C310,660 273,695 273,735C273,775 310,810 370,820L445,834M440,652L372,666C320,676 289,705 289,735C289,765 320,794 372,804L440,818M875,636L950,650C1010,660 1049,695 1049,735C1049,775 1010,810 950,820L875,834M880,652L948,666C1000,676 1033,705 1033,735C1033,765 1000,794 948,804L880,818"/>
<path d="M358,676L410,704V766L358,794L305,766V704ZM962,676L1014,704V766L962,794L910,766V704Z"/>
<circle cx="358" cy="735" r="46"/><circle cx="962" cy="735" r="46"/>
<path d="M520,570C560,525 610,510 660,510C710,510 760,525 800,570L850,620C875,660 885,700 885,735C885,780 875,820 850,855L800,905C760,935 710,948 660,948C610,948 560,935 520,905L470,855C445,820 435,780 435,735C435,700 445,660 470,620Z" stroke-width="7"/>
<path d="M530,585C565,545 612,528 660,528C708,528 755,545 790,585L835,630C860,665 868,700 868,735C868,775 860,812 835,845L790,890C755,918 708,930 660,930C612,930 565,918 530,890L485,845C460,812 452,775 452,735C452,700 460,665 485,630Z" stroke-width="5"/>
<path d="M560,555L570,580M760,555L750,580M840,620L815,640M478,620L505,640M625,575C570,585 520,625 500,680M700,890C760,880 810,830 825,770"/>
<path d="M445,550H470V605H445Z" fill="#333"/>
<!-- bracket left continuing -->
<path d="M360,584L372,595L400,628L445,610M405,584L400,620M458,584V605M470,584V560"/>
<!-- below flange -->
<path d="M398,830V915H555M365,860H395V905H365ZM415,835V915M460,850V915M690,945V1000H780M770,930V1005M805,915V1005M815,900C870,905 920,920 935,945V1020M930,830V1020"/>
<!-- base plate -->
<path d="M597,1025C600,1015 610,1012 625,1012H860L930,1025H1020M625,1015L650,1020L850,1075L900,1078H1200M597,1025L590,1170L575,1195V1215H2382V1190L2369,1170L2359,1025M620,1020L610,1170M590,1170H2359M578,1185H2376M575,1195H2382M845,1075V1215M895,1080V1215" />
<path d="M1020,1018H2304L2324,1020H2359M1200,1050C1210,1030 1230,1020 1260,1018M1195,1060C1195,1080 1205,1092 1225,1095H1879C1894,1095 1904,1090 1904,1075C1894,1050 1864,1025 1829,1018M1235,1030C1220,1040 1215,1060 1225,1078H1889M1315,1018V1080M1789,1018V1080M1844,1025C1869,1035 1884,1055 1889,1078M2324,1020C2304,1050 2274,1080 2224,1085H1904M2199,1080V1215M2279,1075L2284,1170L2294,1215"/>
<!-- control box bottom -->
<path d="M905,390C905,460 930,485 980,490H2044C2104,490 2144,460 2144,400" stroke-width="10"/>
<path d="M920,480C935,505 950,515 975,515H2064C2124,515 2159,480 2162,420M890,400C890,480 910,520 970,530M970,490V640M905,540C905,600 920,625 960,635M970,540H2089M970,650H2094C2134,650 2159,625 2159,590V400M2089,530L2094,650"/>
<path d="M2174,545C2264,545 2319,500 2329,420M2169,575C2284,575 2329,520 2334,430M2174,465H2224C2249,465 2264,450 2264,420M2204,480C2204,530 2214,560 2224,575"/>
<!-- connector top -->
<path d="M1005,640V610C1010,595 1030,590 1060,588L1180,565L1330,590C1360,592 1375,600 1378,615V650H1779M1120,600C1140,588 1230,588 1260,600C1240,612 1140,612 1120,600M1140,610V670C1140,690 1150,695 1165,695H1215C1230,695 1240,690 1240,670V610M1160,612V670M1220,612V670M1010,625H1050V690M1030,640V690M1060,612L1120,604M1260,604L1320,612"/>
<ellipse cx="1062" cy="605" rx="20" ry="9"/><ellipse cx="1318" cy="605" rx="20" ry="9"/><ellipse cx="1190" cy="683" rx="28" ry="8"/>
<!-- thick bar -->
<path d="M1110,800V742C1110,727 1120,720 1135,720H1685C1697,720 1702,728 1702,740V800" stroke-width="13"/>
<rect x="1118" y="735" width="122" height="36" fill="#111" stroke="none"/>
<path d="M1240,742H1700M1110,775H1700" stroke-width="8"/>
<path d="M1020,800H1110M1110,792H1690"/>
<!-- diamond connector -->
<path d="M1040,890C1040,870 1050,860 1070,850L1185,798C1195,795 1205,795 1215,800L1330,850C1350,860 1358,875 1358,890C1358,905 1350,915 1335,925L1215,975C1200,982 1190,982 1175,975L1065,925C1048,915 1040,905 1040,890Z" stroke-width="9"/>
<circle cx="1070" cy="890" r="22"/><circle cx="1070" cy="890" r="10"/><circle cx="1325" cy="890" r="22"/><circle cx="1325" cy="890" r="10"/>
<rect x="1130" y="855" width="130" height="92" rx="22" stroke-width="7"/><path d="M1150,880V855H1240V880"/>
<circle cx="1165" cy="928" r="15"/><circle cx="1207" cy="928" r="15"/><circle cx="1186" cy="898" r="15"/>
<path d="M1040,900V1000C1040,1010 1050,1015 1060,1015M1040,965H1774M1370,790V860M1022,640V1020M1010,800V1020M1358,880H1370"/>
<!-- rear box (L4) -->
<path d="M1779,885H2354L2449,830" stroke-width="9"/>
<path d="M1779,994L2432,975" stroke-width="11"/>
<path d="M1774,650V1010" stroke-width="9"/>
<path d="M1779,915H2359M1779,1005H2449V830M2364,900L2369,975M2359,895L2439,850M2434,975V1005M1759,770V1010M1744,655V695H1774M1754,765H1774"/>
<path d="M1779,650H1919C1944,650 1954,665 1954,690V770C1954,805 1929,820 1894,820H1779"/>
<circle cx="1856" cy="735" r="55" stroke-width="9"/><circle cx="1856" cy="735" r="40"/><circle cx="1856" cy="735" r="25"/><circle cx="1856" cy="735" r="10"/>
<path d="M1704,810C1734,810 1759,830 1759,860V960C1759,975 1744,985 1724,985H1704"/>
<!-- right side -->
<path d="M2349,584V880M2364,584V880M2424,584V830M2439,584V830"/>
<path d="M2439,-520V350C2439,365 2449,370 2454,360V-510M2439,570C2444,560 2454,565 2454,580V830"/>
</g>
<!-- labels -->
<g stroke="none" fill="#3a3637" font-family="Liberation Sans" font-size="112" text-anchor="middle">
<text x="1418" y="185">f</text><text x="486" y="398">a1</text>
<text x="466" y="3038">a</text><text x="1092" y="3038">w</text><text x="1756" y="2920">s</text><text x="1962" y="3038">m</text>
</g>
</g>

<!-- RIGHT PUMP: coords = 4x zoom, origin (1080,1700) -->
<g transform="translate(1080,1700) scale(0.25)" fill="none" stroke="#111" stroke-width="7.5" stroke-linejoin="round" stroke-linecap="butt">
<defs>
<g id="rph">
 <!-- vertical pipe -->
 <path d="M640,1478V2090M745,1478V2250"/>
 <!-- port -->
 <path d="M366,2140C366,2125 375,2120 390,2120H590M366,2140V2530C366,2545 375,2550 390,2550H700M385,2122V2550M590,2120V2550M600,2120V2550M600,2120C625,2120 640,2105 645,2090M610,2135C650,2150 700,2170 720,2210V2240M620,2125C660,2140 715,2165 728,2220V2250H745"/>
 <path d="M370,2132H590M370,2146H590M370,2160H590M370,2520H700M370,2535H700M370,2505H600" stroke-width="5"/>
 <path d="M520,2195H690C710,2198 720,2210 720,2230V2450C720,2470 710,2480 690,2482H520C480,2480 445,2450 440,2400V2280C445,2230 480,2198 520,2195Z"/>
 <path d="M525,2210H680C695,2212 704,2222 704,2238V2442C704,2458 695,2466 680,2468H525C492,2466 462,2440 458,2398V2282C462,2240 492,2212 525,2210Z" stroke-width="6"/>
 <path d="M520,2240H690M520,2432H690" stroke-width="15"/><path d="M366,2140V2530M590,2120V2550M600,2120V2550" stroke-width="9"/>
 <path d="M478,2222V2458M690,2240V2432M410,2275H450V2395H410ZM432,2310V2360M490,2205L520,2240M490,2475L520,2432"/>
 <!-- volute -->
 <path d="M730,2250C800,2256 900,2256 975,2256M745,2535C830,2530 900,2460 945,2300L950,2260M810,2530C870,2500 930,2420 975,2290C985,2240 990,2220 1005,2205C1015,2195 1022,2200 1027,2212M945,2240C950,2200 965,2170 990,2165M945,2222H985M700,2500C705,2530 720,2540 745,2535"/>
 <!-- legs -->
 <path d="M805,2530C815,2570 830,2600 840,2615M820,2525C830,2565 845,2595 855,2612M870,2505C885,2550 900,2590 920,2610M885,2500C900,2545 915,2585 935,2608M925,2490C935,2540 955,2585 980,2608M940,2480C950,2530 970,2580 995,2605"/>
 <!-- shield -->
 <path d="M1358,1712C1200,1712 1050,1760 970,1830C950,1850 948,1870 950,1900C965,2100 1100,2380 1330,2530C1345,2545 1358,2545 1358,2545" stroke-width="7"/>
 <path d="M1358,1727C1205,1727 1060,1772 985,1840C965,1858 963,1875 965,1900C980,2095 1110,2365 1335,2512L1358,2525" stroke-width="5"/>
 <path d="M1358,1748C1215,1748 1075,1788 1000,1850C982,1866 980,1882 982,1905C1000,2090 1125,2350 1340,2492L1358,2500" stroke-width="9"/>
 <!-- ribs -->
 <path d="M1078,1790L1140,2050C1165,2140 1200,2190 1270,2200H1358M1095,1785L1155,2045C1180,2130 1215,2178 1275,2186H1358M1112,1780L1170,2040C1190,2115 1225,2160 1280,2172H1358M1270,2174V2200M1140,2050L1165,2030"/>
 <!-- hex bolt -->
 <circle cx="1030" cy="1890" r="42"/><path d="M1030,1842L1072,1866V1914L1030,1938L988,1914V1866Z"/>
 <!-- housing lower-left -->
 <path d="M835,1540C860,1555 880,1560 900,1570L1035,1700C1045,1715 1050,1715 1060,1700M850,1550L1000,1680L1030,1715M1055,1660L1040,1712"/>
 <!-- base half -->
 <path d="M660,2680C665,2675 670,2672 680,2670L860,2615H1055L1110,2665H1358M660,2680L655,2770L643,2790V2815M680,2675L675,2770M655,2770H1358M648,2780H1358M643,2790H1358M850,2620L835,2815M900,2615V2815M1100,2665L1105,2780M1115,2668L1118,2780M1110,2677H1358"/>
</g>
</defs>
<use href="#rph"/>
<use href="#rph" transform="translate(2716,0) scale(-1,1)"/>
<!-- big arcs -->
<path d="M1060,1700C1150,1610 1260,1575 1358,1575C1456,1575 1566,1610 1656,1700M1055,1650C1150,1580 1260,1548 1358,1548C1456,1548 1566,1580 1661,1650M1058,1675C1150,1595 1260,1562 1358,1562C1456,1562 1566,1595 1658,1675"/>
<path d="M925,2490C1050,2570 1200,2605 1358,2605C1516,2605 1666,2570 1791,2490M915,2500C1040,2585 1200,2622 1358,2622C1516,2622 1676,2585 1801,2500M940,2470C1060,2545 1210,2575 1358,2575C1506,2575 1656,2545 1776,2470"/>
<!-- centre circle -->
<circle cx="1358" cy="2078" r="62" stroke-width="10"/><circle cx="1358" cy="2078" r="47"/><circle cx="1358" cy="2078" r="31"/>
<path d="M1332,2063H1384M1328,2078H1388M1332,2093H1384" stroke-width="4"/>
<!-- bottom bolt -->
<circle cx="1358" cy="2460" r="42"/><path d="M1318,2430L1340,2415H1378L1398,2430M1320,2535L1340,2495M1396,2535L1378,2495"/>
<!-- vent ribs -->
<path d="M1228,2655V2780M1292,2655V2780M1358,2655V2780M1424,2655V2780M1488,2655V2780" stroke="#111" stroke-width="28" stroke-linecap="round"/>
<path d="M1228,2660V2780M1292,2660V2780M1358,2660V2780M1424,2660V2780M1488,2660V2780" stroke="#999" stroke-width="4" stroke-linecap="round"/>
<!-- centre lines -->
<path d="M1358,1385V1580M1358,1620V1670M1358,1705V1900M1358,1940V1985M1358,2020V2220M1358,2260V2300M1358,2340V2600M1358,2620V2850M860,2078H1050M1095,2078H1290M1400,2078H1450M1500,2078H1774M1814,2078H1869" stroke-width="5"/>
<path d="M28,2335H395M430,2335H445M520,2335H700M750,2335H790M840,2335H850M1869,2335H2044M2089,2335H2114M2144,2335H2204M2244,2335H2264M2300,2335H2400M2434,2335H2899" stroke-width="5"/>
<!-- flow arrows -->
<g id="farrow">
<rect x="752" y="2168" width="112" height="54" stroke-width="14"/>
<path d="M845,2140H905L948,2195L905,2250H845L888,2195Z" fill="#111" stroke-width="6"/>
<path d="M868,2162L896,2195L868,2228" stroke="#fefefe" stroke-width="8"/>
</g>
<use href="#farrow" transform="translate(1016,0)"/>
<!-- bottom line & dims -->
<path d="M28,2815H3056M366,182V3342M366,228H1884M1884,182V775M366,3297H2349M2349,2550V3342M643,2790V3167M2073,2790V3167M643,3125H2073M778,2712V3020M1937,2712V3020M778,2977H1937M72,2335V2815M215,1948V2512M172,2158H366M172,2512H366M2856,2335V2815M2659,1915V2512M2349,2158H2704M2349,2512H2704M3012,695V2815M2074,695H3056" stroke-width="6.2"/>
<path d="M366,228L453,215V241ZM1884,228L1797,215V241ZM366,3297L453,3284V3310ZM2349,3297L2262,3284V3310ZM643,3125L730,3112V3138ZM2073,3125L1986,3112V3138ZM778,2977L865,2964V2990ZM1937,2977L1850,2964V2990ZM72,2335L59,2422H85ZM72,2815L59,2728H85ZM215,2158L202,2245H228ZM215,2512L202,2425H228ZM2856,2335L2843,2422H2869ZM2856,2815L2843,2728H2869ZM2659,2158L2646,2245H2672ZM2659,2512L2646,2425H2672ZM3012,697L2999,784H3025ZM3012,2815L2999,2728H3025Z" fill="#1c1c1c" stroke="none"/>
<!-- DN3 dim -->
<path d="M1742,503V745M2024,503V745M1742,547H2252M1884,820V850" stroke-width="6.2"/>
<path d="M1742,547L1829,534V560ZM2024,547L1937,534V560Z" fill="#1c1c1c" stroke="none"/>
<!-- labels -->
<g stroke="none" fill="#3a3637" font-family="Liberation Sans" font-size="112" text-anchor="middle">
<text x="1133" y="192">i1</text><text x="2219" y="528" letter-spacing="4">DN3</text>
<text x="1358" y="3272">i</text><text x="1354" y="3084">n</text><text x="1355" y="2940">n1</text>
<text x="-48" y="2615">h1</text><text x="2775" y="2632">h2</text><text x="2950" y="1770">l</text>
<text transform="translate(195,2030) rotate(-90)" letter-spacing="4">DN1</text>
<text transform="translate(2629,2000) rotate(-90)" letter-spacing="4">DN2</text>
</g>
<!-- ===== upper part ===== -->
<!-- top cap -->
<path d="M1058,582V561Q1058,553 1066,553H1184Q1192,553 1192,561V582ZM1255,582V561Q1255,553 1263,553H1382Q1390,553 1390,561V582Z" fill="#2a2a2a" stroke-width="3"/>
<rect x="1033" y="580" width="380" height="62" rx="8"/>
<path d="M1033,636H1413M1040,648H1406" stroke-width="4"/>
<path d="M1043,648V1180C1043,1205 1030,1215 1010,1215M1403,648V690C1410,710 1430,730 1450,738M1062,770V1185C1062,1215 1045,1228 1020,1228"/>
<path d="M1043,770C1050,745 1065,740 1080,745C1150,770 1250,775 1400,720C1420,735 1440,738 1460,738L1745,748M1060,765C1150,795 1260,795 1405,738M1033,1025C1200,1015 1450,1012 1600,1020"/>
<!-- arcs -->
<path d="M1033,632C880,660 760,800 740,980M1033,645C890,672 772,805 752,980M1037,678C905,700 795,830 790,982M1037,695C920,720 815,850 808,982M1040,782C965,820 900,890 883,980"/>
<!-- small dome cap -->
<path d="M655,1045C700,990 760,975 815,975C870,975 930,990 975,1045M675,1045C715,1000 765,988 815,988C865,988 915,1000 955,1045M795,985V1040M835,985V1040"/>
<path d="M815,985V1042" stroke-width="14"/>
<path d="M625,1075C625,1060 635,1048 655,1045H975C995,1048 1005,1060 1005,1075V1120H625Z" stroke-width="7"/>
<path d="M625,1068H1005M625,1113H1005M640,1128H995" stroke-width="4"/>
<path d="M637,1128V1180M995,1128V1190"/>
<!-- below dome -->
<path d="M650,1185C700,1178 780,1185 815,1190C830,1185 850,1183 1000,1183M628,1220C630,1205 645,1196 660,1196H1010M628,1220V1440C628,1465 640,1478 655,1478H745M645,1230V1470M745,1190V1478M650,1228H745M820,1212H1015"/>
<path d="M808,1195L835,1540M822,1212L850,1545M868,1212L895,1550M1010,1215L1055,1660M1020,1228L1048,1500"/>
<path d="M650,1390H740C755,1400 800,1440 830,1462M650,1445C690,1440 720,1440 745,1445M745,1402L832,1472M750,1478L835,1545"/>
<!-- up arrow symbol -->
<path d="M1652,945L1703,992V1018L1688,1030L1652,998L1616,1030L1601,1018V992Z" stroke-width="15"/>
<rect x="1624" y="1032" width="58" height="108" rx="18" stroke-width="15"/>
<!-- right housing -->
<path d="M1704,745C1734,752 1754,770 1759,790L1894,895C1904,920 1919,960 1934,1000M1754,790L1690,1580M1769,800L1705,1590M1884,900L1824,1545M1899,905L1839,1550M1934,1000L1889,1540M1919,1000L1894,1450"/>
<path d="M1889,1540L1681,1690M1874,1560L1690,1700M1824,1550L1700,1640"/>
<!-- right pipe + cap -->
<path d="M1716,642V620Q1716,612 1724,612H1844Q1852,612 1852,620V642ZM1914,642V620Q1914,612 1922,612H2041Q2049,612 2049,620V642Z" fill="#2a2a2a" stroke-width="3"/>
<rect x="1689" y="640" width="385" height="60" rx="9"/>
<path d="M1695,700V745M2064,700V790M2074,795V2090M1789,795H2064M1799,808H2069M1974,1080V2250M1742,690L1752,740M2014,690L2034,740"/>
<path d="M1934,1000C1954,980 1984,975 2014,980C2049,990 2069,1030 2072,1080H1974L1944,1010M1974,1080L2034,1000M1974,1385H2069M1954,1448C1994,1445 2034,1445 2072,1465M1974,1385L1904,1450M1954,1448L1889,1540"/>
<!-- slanted control box -->
<path d="M2144,1300L2464,1980" stroke-width="13"/>
<path d="M2079,1255C2104,1260 2129,1275 2136,1300L2082,1330M2074,1320L2394,2080M2089,1310L2404,2060M2124,1300L2439,2000M2100,1275C2110,1285 2112,1300 2105,1312"/>
<path d="M2464,1980C2474,2000 2469,2020 2454,2050L2439,2085C2429,2095 2414,2090 2404,2070M2439,2010L2104,2125M2459,2040L2164,2125M2394,2080L2354,2000M2420,2000C2440,2000 2450,2020 2440,2050"/>
<path d="M2110,1482L2186,1450M2148,1565L2224,1533M2184,1648L2260,1616M2220,1730L2296,1698M2258,1812L2334,1780M2296,1892L2372,1860" stroke="#111" stroke-width="34" stroke-linecap="round"/>
<path d="M2098,1487L2186,1450M2136,1570L2224,1533M2172,1653L2260,1616M2208,1735L2296,1698M2246,1817L2334,1780M2284,1897L2372,1860" stroke="#fefefe" stroke-width="9" stroke-linecap="round"/>
<path d="M2074,1320L2394,2080M2089,1310L2404,2060" />
<path d="M2160,1400L2420,1960" stroke-width="4"/>
<!-- right port joins -->
<path d="M2074,2060C2079,2090 2089,2110 2104,2125M2074,2100L2034,2150L2004,2184"/>
<!-- front cover top right bits -->
</g>

</svg></body></html>
